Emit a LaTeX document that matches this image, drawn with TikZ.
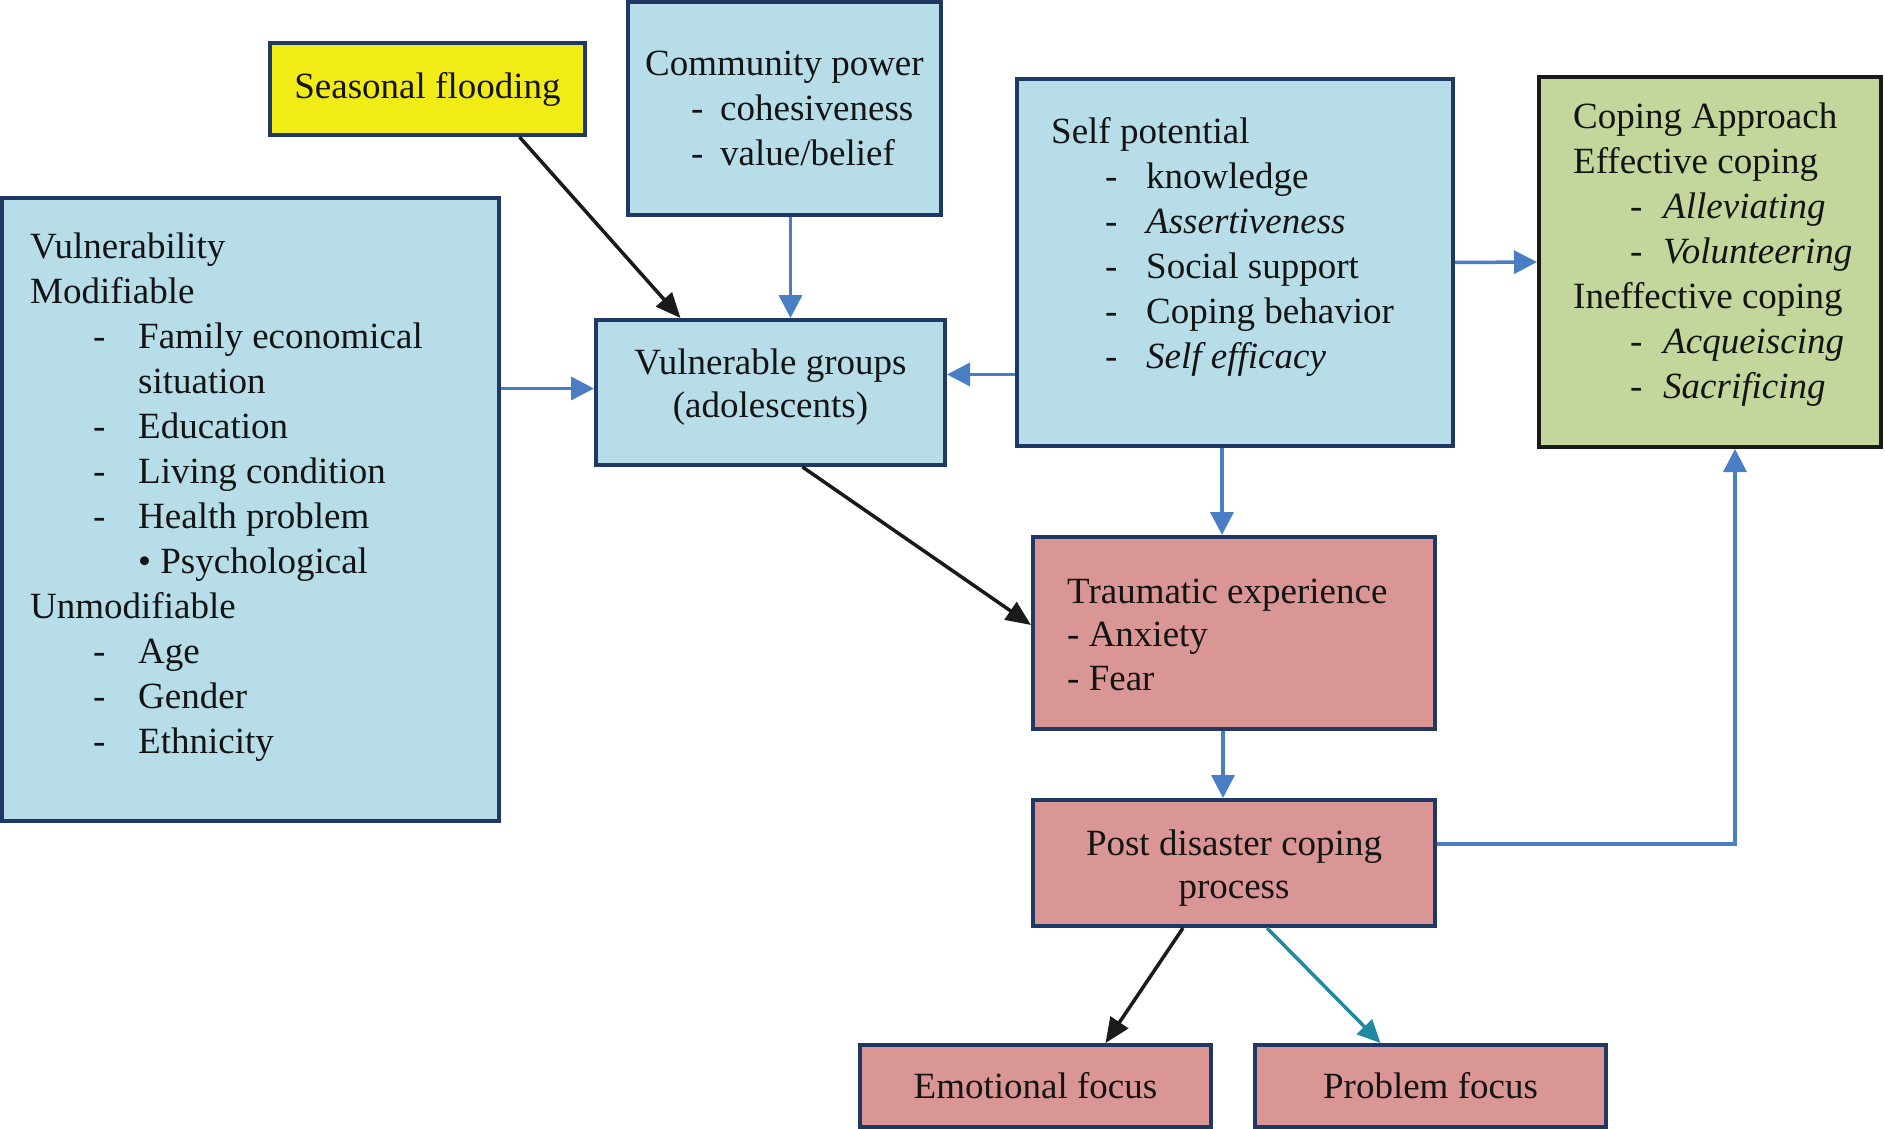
\documentclass[tikz,border=0pt]{standalone}
\usepackage{fontspec}
\setmainfont{Liberation Serif}
\usetikzlibrary{arrows.meta}
\definecolor{bfill}{RGB}{183,222,232}
\definecolor{bdraw}{RGB}{31,56,100}
\definecolor{yfill}{RGB}{242,236,22}
\definecolor{gfill}{RGB}{195,214,155}
\definecolor{pfill}{RGB}{217,150,148}
\definecolor{arrblue}{RGB}{74,126,196}
\definecolor{arrteal}{RGB}{33,137,160}
\definecolor{arrblack}{RGB}{26,26,26}
\definecolor{txtcol}{RGB}{20,20,20}
\newcommand\ditem[3]{\hspace*{#1}\makebox[#2][l]{-}#3}
\begin{document}
\begin{tikzpicture}[x=1pt,y=-1pt,
  every node/.style={font=\fontsize{37pt}{45pt}\selectfont, text=txtcol},
  box/.style={draw=bdraw, line width=4pt, inner sep=0pt, rectangle},
  bluebox/.style={box, fill=bfill},
  yellowbox/.style={box, fill=yfill},
  greenbox/.style={box, draw=arrblack, fill=gfill},
  pinkbox/.style={box, fill=pfill},
  txt/.style={anchor=north west, inner sep=0pt, align=left},
  ctxt/.style={inner sep=0pt, align=center},
  tight/.style={font=\fontsize{37pt}{43.5pt}\selectfont},
  barrow/.style={draw=arrblue, line width=3.5pt, -{Triangle[length=23pt,width=23pt]}},
  karrow/.style={draw=arrblack, line width=3.5pt, -{Triangle[length=25pt,width=21pt]}},
  tarrow/.style={draw=arrteal, line width=3.5pt, -{Triangle[length=23pt,width=21pt]}}]
\useasboundingbox (0,0) rectangle (1885,1129);

% boxes
\node[yellowbox, minimum width=315pt, minimum height=92pt] (sea) at (427.5,89) {Seasonal flooding};
\node[bluebox, minimum width=313pt, minimum height=213pt] (com) at (784.5,108.5) {};
\node[bluebox, minimum width=497pt, minimum height=623pt] (vul) at (250.5,509.5) {};
\node[bluebox, minimum width=349pt, minimum height=145pt] (vg) at (770.5,392.5) {};
\node[bluebox, minimum width=436pt, minimum height=367pt] (self) at (1235,262.5) {};
\node[greenbox, minimum width=342pt, minimum height=370pt] (cop) at (1710,262) {};
\node[pinkbox, minimum width=402pt, minimum height=192pt] (trau) at (1234,633) {};
\node[pinkbox, minimum width=402pt, minimum height=126pt] (post) at (1234,863) {};
\node[pinkbox, minimum width=351pt, minimum height=82pt] (emo) at (1035.5,1086) {Emotional focus};
\node[pinkbox, minimum width=351pt, minimum height=82pt] (prob) at (1430.5,1086) {Problem focus};

% texts
\node[ctxt, tight] (vgtxt) at (770.5,387) {Vulnerable groups\\(adolescents)};
\node[ctxt, tight] (posttxt) at (1234,868) {Post disaster coping\\process};

\node[txt] (comtxt) at (645,43.5) {\strut Community power\\
\ditem{46pt}{29pt}{cohesiveness}\\
\ditem{46pt}{29pt}{value/belief}};

\node[txt] (vultxt) at (30,226.5) {\strut Vulnerability\\
Modifiable\\
\ditem{63pt}{45pt}{Family economical}\\
\hspace*{108pt}situation\\
\ditem{63pt}{45pt}{Education}\\
\ditem{63pt}{45pt}{Living condition}\\
\ditem{63pt}{45pt}{Health problem}\\
\hspace*{108pt}• Psychological\\
Unmodifiable\\
\ditem{63pt}{45pt}{Age}\\
\ditem{63pt}{45pt}{Gender}\\
\ditem{63pt}{45pt}{Ethnicity}};

\node[txt] (selftxt) at (1051,111.5) {\strut Self potential\\
\ditem{54pt}{41pt}{knowledge}\\
\ditem{54pt}{41pt}{\textit{Assertiveness}}\\
\ditem{54pt}{41pt}{Social support}\\
\ditem{54pt}{41pt}{Coping behavior}\\
\ditem{54pt}{41pt}{\textit{Self efficacy}}};

\node[txt] (coptxt) at (1573,96.5) {\strut Coping Approach\\
Effective coping\\
\ditem{57pt}{33pt}{\textit{Alleviating}}\\
\ditem{57pt}{33pt}{\textit{Volunteering}}\\
Ineffective coping\\
\ditem{57pt}{33pt}{\textit{Acqueiscing}}\\
\ditem{57pt}{33pt}{\textit{Sacrificing}}};

\node[txt, tight] (trautxt) at (1067,572.5) {\strut Traumatic experience\\
- Anxiety\\
- Fear};

% connectors
\draw[karrow] ([xshift=92pt]sea.south) -- ([xshift=-90pt]vg.north);
\draw[barrow] ([xshift=6pt]com.south) -- ([xshift=20pt]vg.north);
\coordinate (a1) at ([yshift=4pt]vg.west);
\draw[barrow] (vul.east |- a1) -- (a1);
\coordinate (a2) at ([yshift=18pt]vg.east);
\draw[barrow] (self.west |- a2) -- (a2);
\draw[barrow] (self.east) -- (cop.west);
\coordinate (a3) at ([xshift=-12pt]trau.north);
\draw[barrow] (self.south -| a3) -- (a3);
\draw[karrow] ([xshift=32pt]vg.south) -- ([yshift=8pt]trau.west);
\coordinate (a4) at ([xshift=-11pt]post.north);
\draw[barrow] (trau.south -| a4) -- (a4);
\coordinate (a5) at ([xshift=25pt]cop.south);
\draw[barrow] ([yshift=19pt]post.east) -| (a5);
\draw[karrow] ([xshift=-51pt]post.south) -- ([xshift=70pt]emo.north);
\draw[tarrow] ([xshift=33pt]post.south) -- ([xshift=-50pt]prob.north);
\end{tikzpicture}
\end{document}
